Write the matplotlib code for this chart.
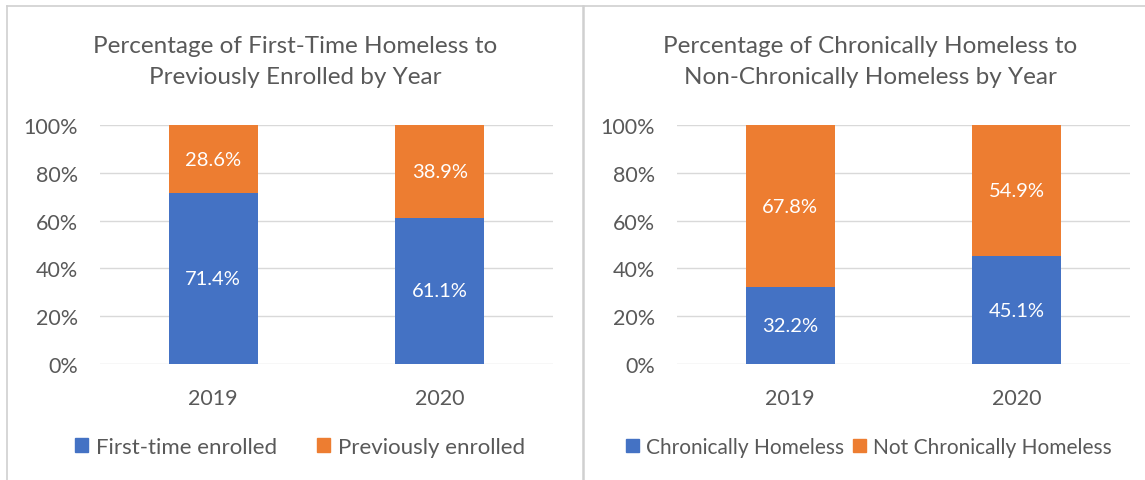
import matplotlib.pyplot as plt
from matplotlib.lines import Line2D
from matplotlib.patches import Patch

# Data
years = ['2019', '2020']
first_time = [71.4, 61.1]
previously = [28.6, 38.9]
chronic = [32.2, 45.1]
not_chronic = [67.8, 54.9]
yticks = [0, 20, 40, 60, 80, 100]

BLUE = '#4472C4'
ORANGE = '#ED7D31'
TEXT = '#595959'
GRID = '#D9D9D9'

plt.rcParams['font.family'] = ['Lato', 'DejaVu Sans']

W, H = 1145, 481
fig = plt.figure(figsize=(W / 100, H / 100), dpi=100)


def px_axes(x0, y0, x1, y1):
    # pixel box (top-left origin) -> figure axes
    return fig.add_axes([x0 / W, 1 - y1 / H, (x1 - x0) / W, (y1 - y0) / H])


def stacked_chart(ax, bottom_vals, top_vals, labels, title, title_x, leg_x,
                  leg_size=16, leg_gap=1.6):
    x = range(len(years))
    ax.bar(x, bottom_vals, width=0.395, color=BLUE, zorder=2)
    ax.bar(x, top_vals, bottom=bottom_vals, width=0.395, color=ORANGE, zorder=2)
    for i in x:
        ax.text(i, bottom_vals[i] / 2, f'{bottom_vals[i]:.1f}%', ha='center', va='center',
                color='white', fontsize=14.5)
        ax.text(i, bottom_vals[i] + top_vals[i] / 2, f'{top_vals[i]:.1f}%', ha='center',
                va='center', color='white', fontsize=14.5)
    ax.set_xlim(-0.5, 1.5)
    ax.set_ylim(0, 100)
    ax.set_yticks(yticks)
    ax.set_yticklabels([f'{t}%' for t in yticks])
    ax.set_xticks(list(x))
    ax.set_xticklabels(years)
    ax.yaxis.grid(True, color=GRID, linewidth=1, zorder=0)
    ax.set_axisbelow(True)
    for s in ax.spines.values():
        s.set_visible(False)
    ax.tick_params(axis='both', length=0, colors=TEXT, labelsize=15.5)
    ax.tick_params(axis='y', pad=16)
    ax.tick_params(axis='x', pad=17)
    fig.text(title_x / W, 1 - 62 / H, title, ha='center', va='center', color=TEXT,
             fontsize=17.5, linespacing=1.55)
    handles = [Patch(color=BLUE), Patch(color=ORANGE)]
    fig.legend(handles, labels, loc='center', bbox_to_anchor=(leg_x / W, 1 - 448 / H),
               ncol=2, frameon=False, fontsize=leg_size, labelcolor=TEXT,
               handlelength=0.6, handleheight=0.6, handletextpad=0.35, columnspacing=leg_gap)


ax1 = px_axes(100, 126, 553, 365)
stacked_chart(ax1, first_time, previously, ['First-time enrolled', 'Previously enrolled'],
              'Percentage of First-Time Homeless to\nPreviously Enrolled by Year', 295, 300,
              leg_gap=1.8)

ax2 = px_axes(677, 126, 1130, 365)
stacked_chart(ax2, chronic, not_chronic, ['Chronically Homeless', 'Not Chronically Homeless'],
              'Percentage of Chronically Homeless to\nNon-Chronically Homeless by Year', 870, 869,
              leg_size=15, leg_gap=0.45)

# chart borders
border = '#D0D0D0'
fig.add_artist(Line2D([7 / W, 1], [1 - 7 / H, 1 - 7 / H], color=border, lw=1.2))
fig.add_artist(Line2D([7 / W, 7 / W], [0, 1 - 7 / H], color=border, lw=1.2))
fig.add_artist(Line2D([583 / W, 583 / W], [0, 1 - 7 / H], color=border, lw=1.8))

fig.savefig('out.png', dpi=100)
